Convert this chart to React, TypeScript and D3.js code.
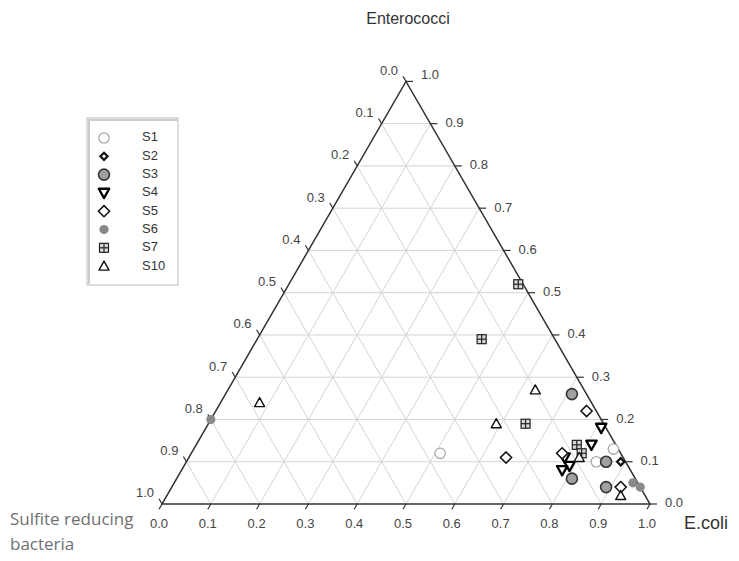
import React from 'react';
import * as d3 from 'd3';

// each sample: [E.coli, Enterococci, Sulfite reducing bacteria]
const S1 = [[0.51, 0.12, 0.37], [0.86, 0.13, 0.01], [0.84, 0.10, 0.06]];
const S2 = [[0.89, 0.10, 0.01]];
const S3 = [[0.71, 0.26, 0.03], [0.86, 0.10, 0.04], [0.81, 0.06, 0.13], [0.89, 0.04, 0.07]];
const S4 = [[0.81, 0.18, 0.01], [0.81, 0.14, 0.05], [0.77, 0.11, 0.12], [0.79, 0.09, 0.12], [0.78, 0.08, 0.14]];
const S5 = [[0.76, 0.22, 0.02], [0.65, 0.11, 0.24], [0.76, 0.12, 0.12], [0.92, 0.04, 0.04]];
const S6 = [[0.00, 0.20, 0.80], [0.94, 0.05, 0.01], [0.96, 0.04, 0.00]];
const S7 = [[0.47, 0.52, 0.01], [0.46, 0.39, 0.15], [0.65, 0.19, 0.16], [0.78, 0.14, 0.08], [0.80, 0.12, 0.08]];
const S10 = [[0.08, 0.24, 0.68], [0.63, 0.27, 0.10], [0.59, 0.19, 0.22], [0.80, 0.11, 0.09], [0.93, 0.02, 0.05]];

const seriesNames = ['S1', 'S2', 'S3', 'S4', 'S5', 'S6', 'S7', 'S10'];
const seriesData = [S1, S2, S3, S4, S5, S6, S7, S10];
const tickValues = [0, 0.1, 0.2, 0.3, 0.4, 0.5, 0.6, 0.7, 0.8, 0.9, 1.0];
const tickLabels = ['0.0', '0.1', '0.2', '0.3', '0.4', '0.5', '0.6', '0.7', '0.8', '0.9', '1.0'];

const W = 739;
const H = 561;

const x = d3.scaleLinear().domain([0, 1]).range([162, 650]);
const y = d3.scaleLinear().domain([0, 1]).range([504, 81.4]);

// ecoli goes right, enterococci goes up
const pt = (e: number, ent: number): [number, number] => [x(e + ent / 2), y(ent)];

const tickFont = 'Arial, "Liberation Sans", sans-serif';

const Marker = ({ kind, cx, cy }: { kind: string; cx: number; cy: number }) => {
  const diamond = (s: number) => `M${cx},${cy - s}L${cx + s},${cy}L${cx},${cy + s}L${cx - s},${cy}Z`;
  const triDown = (s: number) => `M${cx - s},${cy - s * 0.8}L${cx + s},${cy - s * 0.8}L${cx},${cy + s}Z`;
  const triUp = (s: number) => `M${cx - s},${cy + s * 0.8}L${cx + s},${cy + s * 0.8}L${cx},${cy - s}Z`;
  switch (kind) {
    case 'S1':
      return <circle cx={cx} cy={cy} r={5.2} fill="#fff" stroke="#aaa" strokeWidth={1.3} />;
    case 'S2':
      return <path d={diamond(3.6)} fill="#fff" stroke="#111" strokeWidth={2.2} />;
    case 'S3':
      return <circle cx={cx} cy={cy} r={5.5} fill="#a0a0a0" stroke="#333" strokeWidth={1.6} />;
    case 'S4':
      return <path d={triDown(5.2)} fill="#fff" stroke="#000" strokeWidth={2.3} strokeLinejoin="round" />;
    case 'S5':
      return <path d={diamond(5.6)} fill="#fff" stroke="#111" strokeWidth={1.5} />;
    case 'S6':
      return <circle cx={cx} cy={cy} r={4.6} fill="#8a8a8a" />;
    case 'S7':
      return (
        <g stroke="#222" strokeWidth={1.2}>
          <rect x={cx - 4.5} y={cy - 4.5} width={9} height={9} fill="#d8d8d8" />
          <line x1={cx} y1={cy - 4.5} x2={cx} y2={cy + 4.5} />
          <line x1={cx - 4.5} y1={cy} x2={cx + 4.5} y2={cy} />
        </g>
      );
    default:
      return <path d={triUp(5)} fill="#fff" stroke="#111" strokeWidth={1.4} strokeLinejoin="round" />;
  }
};

const App = () => {
  const inner = tickValues.slice(1, -1);
  const [blx, bly] = pt(0, 0);
  const [brx, bry] = pt(1, 0);
  const [apx, apy] = pt(0, 1);

  return (
    <svg width={W} height={H} style={{ position: 'absolute', left: 0, top: 0, background: '#fff' }}>
      {/* grid */}
      <g stroke="#d4d4d4" strokeWidth={1} fill="none">
        {inner.map((k) => {
          const a = pt(0, k), b = pt(1 - k, k);
          return <line key={'h' + k} x1={a[0]} y1={a[1]} x2={b[0]} y2={b[1]} />;
        })}
        {inner.map((k) => {
          const a = pt(k, 0), b = pt(k, 1 - k);
          return <line key={'e' + k} x1={a[0]} y1={a[1]} x2={b[0]} y2={b[1]} />;
        })}
        {inner.map((k) => {
          const a = pt(1 - k, 0), b = pt(0, 1 - k);
          return <line key={'s' + k} x1={a[0]} y1={a[1]} x2={b[0]} y2={b[1]} />;
        })}
      </g>

      {/* triangle */}
      <path d={`M${blx},${bly}L${brx},${bry}L${apx},${apy}Z`} fill="none" stroke="#333" strokeWidth={1.5} />

      {/* ticks and labels */}
      <g fontFamily={tickFont} fontSize={13} fill="#444">
        {tickValues.map((k, i) => {
          // bottom: E.coli
          const [bx, by] = pt(k, 0);
          // right: Enterococci
          const [rx, ry] = pt(1 - k, k);
          // left: Sulfite reducing bacteria
          const [lx, ly] = pt(0, 1 - k);
          return (
            <g key={'t' + i}>
              <line x1={bx} y1={by} x2={bx - 3} y2={by + 5.2} stroke="#333" strokeWidth={1.2} />
              <text x={bx - 3} y={by + 21} textAnchor="middle" dominantBaseline="middle">{tickLabels[i]}</text>
              <line x1={rx} y1={ry} x2={rx + 7} y2={ry} stroke="#333" strokeWidth={1.2} />
              <text x={rx + 15} y={i === 10 ? ry - 6 : ry} dominantBaseline="middle">{tickLabels[i]}</text>
              <line x1={lx} y1={ly} x2={lx - 3} y2={ly - 5.2} stroke="#333" strokeWidth={1.2} />
              <text x={lx - 8} y={ly - 10} textAnchor="end" dominantBaseline="middle">{tickLabels[i]}</text>
            </g>
          );
        })}
      </g>

      {/* data */}
      {seriesData.map((rows, si) => (
        <g key={seriesNames[si]}>
          {rows.map((r, j) => {
            const [cx, cy] = pt(r[0], r[1]);
            return <Marker key={j} kind={seriesNames[si]} cx={cx} cy={cy} />;
          })}
        </g>
      ))}

      {/* axis titles */}
      <text x={408} y={20} textAnchor="middle" dominantBaseline="middle" fontFamily={tickFont} fontSize={16} fill="#333">Enterococci</text>
      <text x={684} y={524} dominantBaseline="middle" fontFamily={tickFont} fontSize={18} fill="#333">E.coli</text>
      <text x={10} y={520} dominantBaseline="middle" fontFamily="'Open Sans', Lato, sans-serif" fontSize={17} fill="#707070">Sulfite reducing</text>
      <text x={10} y={545} dominantBaseline="middle" fontFamily="'Open Sans', Lato, sans-serif" fontSize={17} fill="#707070">bacteria</text>

      {/* legend */}
      <g>
        <rect x={87} y={118} width={91} height={167} fill="#fff" stroke="#bbb" strokeWidth={1} />
        <line x1={88} y1={120} x2={177} y2={120} stroke="#ccc" strokeWidth={2} />
        <line x1={89} y1={120} x2={89} y2={284} stroke="#ccc" strokeWidth={2} />
        {seriesNames.map((name, i) => {
          const ly = 138 + i * 18.3;
          return (
            <g key={'l' + name}>
              <Marker kind={name} cx={104} cy={ly} />
              <text x={142} y={ly} dominantBaseline="middle" fontFamily={tickFont} fontSize={13} fill="#333">{name}</text>
            </g>
          );
        })}
      </g>
    </svg>
  );
};

export default App;
